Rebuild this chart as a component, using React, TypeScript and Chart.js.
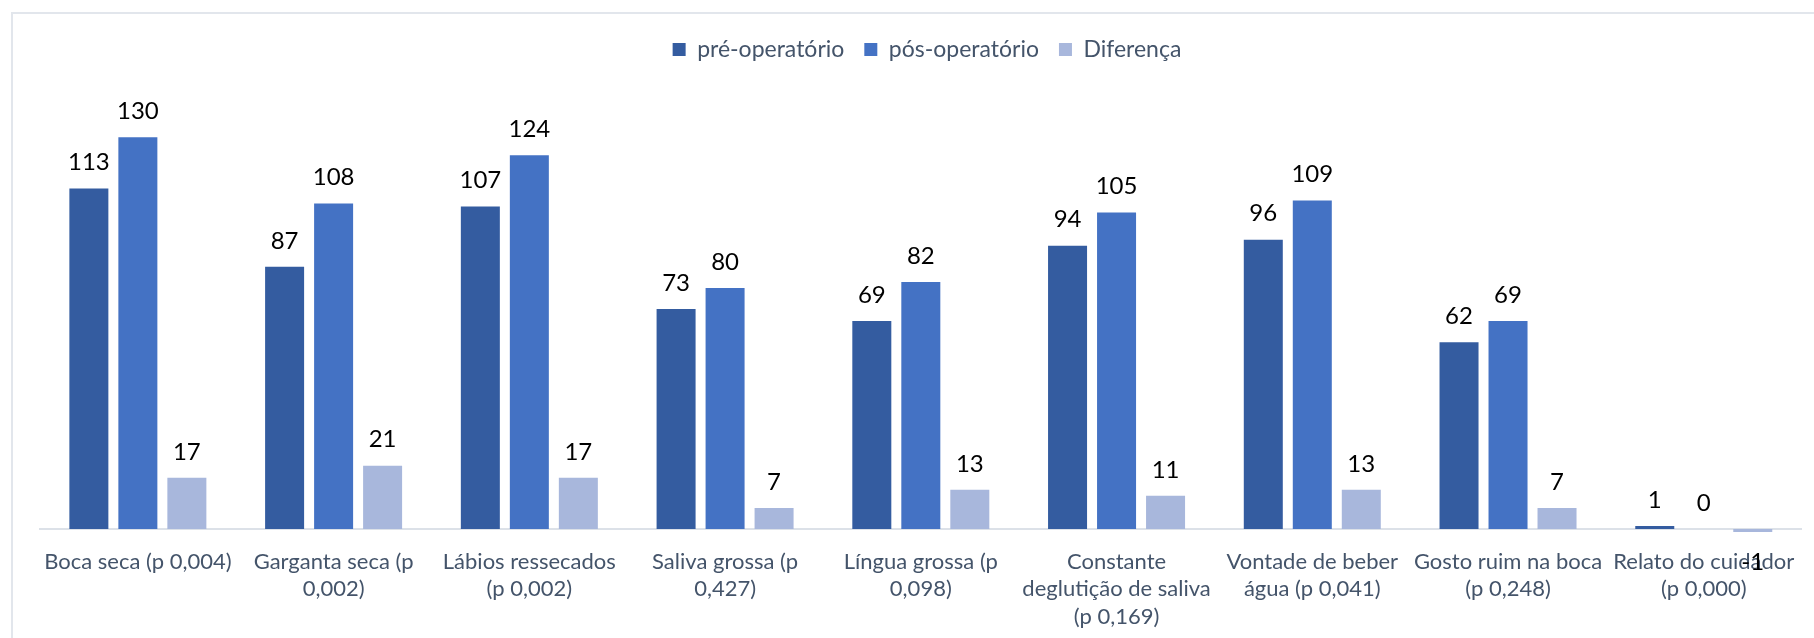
import React, { useEffect, useRef } from "react";
import { Chart, registerables } from "chart.js";

Chart.register(...registerables);

const categories: string[][] = [
  ["Boca seca (p 0,004)"],
  ["Garganta seca (p", "0,002)"],
  ["Lábios ressecados", "(p 0,002)"],
  ["Saliva grossa (p", "0,427)"],
  ["Língua grossa (p", "0,098)"],
  ["Constante", "deglutição de saliva", "(p 0,169)"],
  ["Vontade de beber", "água (p 0,041)"],
  ["Gosto ruim na boca", "(p 0,248)"],
  ["Relato do cuidador", "(p 0,000)"],
];

const preOperatorio = [113, 87, 107, 73, 69, 94, 96, 62, 1];
const posOperatorio = [130, 108, 124, 80, 82, 105, 109, 69, 0];
const diferenca = [17, 21, 17, 7, 13, 11, 13, 7, -1];

const seriesNames = ["pré-operatório", "pós-operatório", "Diferença"];
const seriesColors = ["#345CA0", "#4472C4", "#A8B7DC"];

const FONT = "Lato, 'Noto Sans', sans-serif";
const TEXT_COLOR = "#44546A";

const dataLabelPlugin = {
  id: "dataLabels",
  afterDatasetsDraw(chart: any) {
    const ctx = chart.ctx;
    ctx.save();
    ctx.font = `24px ${FONT}`;
    ctx.fillStyle = "#000000";
    ctx.textAlign = "center";
    ctx.textBaseline = "middle";
    chart.data.datasets.forEach((ds: any, i: number) => {
      const meta = chart.getDatasetMeta(i);
      meta.data.forEach((el: any, j: number) => {
        const v = ds.data[j];
        const y = v >= 0 ? el.y - 26 : el.y + 30;
        ctx.fillText(String(v), el.x, y);
      });
    });
    ctx.restore();
  },
};

const legendShiftPlugin = {
  id: "legendShift",
  afterLayout(chart: any) {
    if (chart.legend) {
      chart.legend.left += 20;
      chart.legend.right += 20;
    }
  },
};

export default function App() {
  const canvasRef = useRef<HTMLCanvasElement | null>(null);

  useEffect(() => {
    if (!canvasRef.current) return;
    const datasets = [preOperatorio, posOperatorio, diferenca].map((d, i) => ({
      label: seriesNames[i],
      data: d,
      backgroundColor: seriesColors[i],
      borderWidth: 0,
      categoryPercentage: 0.751,
      barPercentage: 0.796,
      clip: false as any,
    }));
    const chart = new Chart(canvasRef.current, {
      type: "bar",
      data: { labels: categories, datasets },
      plugins: [dataLabelPlugin, legendShiftPlugin],
      options: {
        animation: false,
        responsive: false,
        maintainAspectRatio: false,
        layout: { padding: { top: 18, left: 12, right: 12, bottom: 109 } },
        plugins: {
          tooltip: { enabled: false },
          legend: {
            position: "top",
            labels: {
              boxWidth: 13,
              boxHeight: 13,
              padding: 20,
              color: TEXT_COLOR,
              font: { family: FONT, size: 23 },
            },
          },
        },
        scales: {
          x: {
            position: { y: 0 } as any,
            grid: { display: false, drawTicks: false },
            border: { display: true, color: "#DCE1E8", width: 2 },
            ticks: {
              color: TEXT_COLOR,
              font: { family: FONT, size: 22, lineHeight: 1.25 },
              padding: 19,
              maxRotation: 0,
              autoSkip: false,
            },
          },
          y: {
            min: 0,
            max: 152,
            grid: { display: false },
            border: { display: false },
            ticks: { display: false },
            afterFit: (scale: any) => {
              scale.width = 28;
            },
          },
        },
      },
    });
    return () => chart.destroy();
  }, []);

  return (
    <div style={{ position: "fixed", left: 0, top: 0, width: 1814, height: 638, background: "#fff", overflow: "hidden" }}>
      <div
        style={{
          position: "absolute",
          left: 11,
          top: 12,
          width: 1900,
          height: 800,
          borderTop: "2px solid #E2E6EC",
          borderLeft: "2px solid #E2E6EC",
        }}
      />
      <canvas ref={canvasRef} width={1814} height={638} style={{ position: "absolute", left: 0, top: 0 }} />
    </div>
  );
}
